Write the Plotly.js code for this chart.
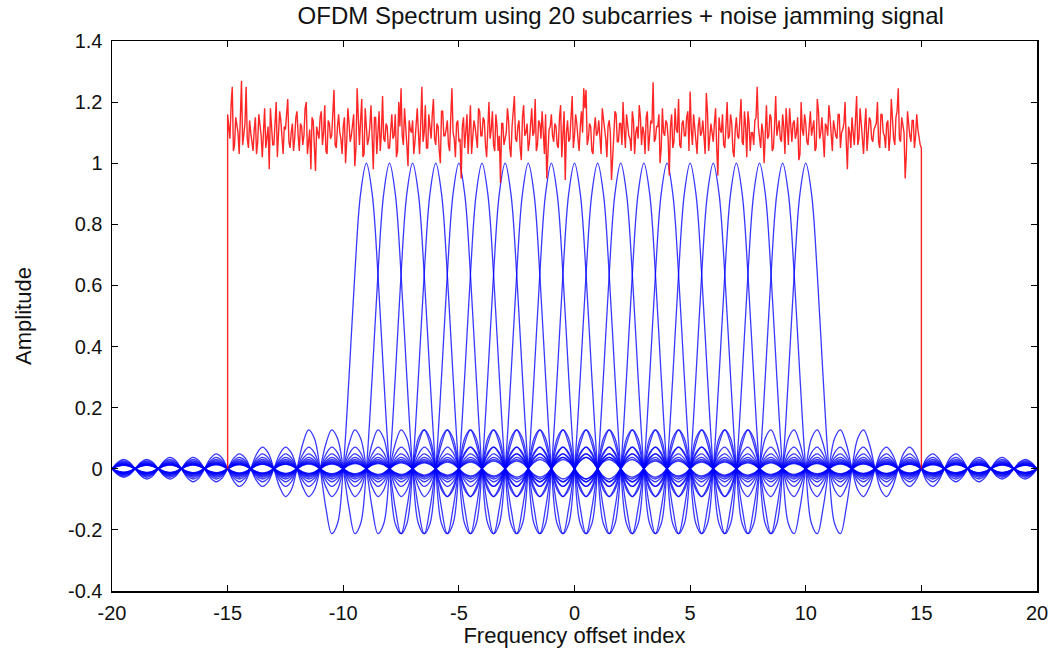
<!DOCTYPE html>
<html>
<head>
<meta charset="utf-8">
<script src="https://cdn.plot.ly/plotly-3.0.1.min.js"></script>
<style>html,body{margin:0;padding:0;background:#fff;}#chart{width:1059px;height:652px;}</style>
</head>
<body>
<div id="chart"></div>
<script>
// Subcarrier centre indices (20 subcarriers)
const subcarriers = [-9,-8,-7,-6,-5,-4,-3,-2,-1,0,1,2,3,4,5,6,7,8,9,10];
// Subcarrier amplitude shape, sampled every 0.25 offset (offset 0 .. 30)
const kernelStep = 0.25;
const sincKernel = [
 1, 0.9003, 0.6366, 0.3001, 0, -0.1801, -0.2122, -0.1286,
 0, 0.1000, 0.1273, 0.0818, 0, -0.0693, -0.0909, -0.0600,
 0, 0.0530, 0.0707, 0.0474, 0, -0.0429, -0.0579, -0.0391,
 0, 0.0360, 0.0490, 0.0333, 0, -0.0310, -0.0424, -0.0290,
 0, 0.0273, 0.0374, 0.0257, 0, -0.0243, -0.0335, -0.0231,
 0, 0.0220, 0.0303, 0.0209, 0, -0.0200, -0.0277, -0.0192,
 0, 0.0184, 0.0255, 0.0177, 0, -0.0170, -0.0236, -0.0164,
 0, 0.0158, 0.0220, 0.0153, 0, -0.0148, -0.0205, -0.0143,
 0, 0.0139, 0.0193, 0.0134, 0, -0.0130, -0.0182, -0.0127,
 0, 0.0123, 0.0172, 0.0120, 0, -0.0117, -0.0163, -0.0114,
 0, 0.0111, 0.0155, 0.0108, 0, -0.0106, -0.0148, -0.0103,
 0, 0.0101, 0.0141, 0.0099, 0, -0.0097, -0.0135, -0.0095,
 0, 0.0093, 0.0130, 0.0091, 0, -0.0089, -0.0125, -0.0087,
 0, 0.0086, 0.0120, 0.0084, 0, -0.0083, -0.0116, -0.0081,
 0, 0.0080, 0.0112, 0.0078, 0, -0.0077, -0.0108, -0.0076,
 0
];
const freqMin = -20, freqMax = 20;

// Noise jamming signal: band edges and amplitude samples every 0.1 (from -15)
const jamStart = -15, jamEnd = 15, jamStep = 0.1;
const jamNoise = [
 1.16,1.08,1.25,1.06,1.12,1.03,1.27,1.09,1.25,1.05,
 1.10,1.04,1.15,1.07,1.13,1.02,1.18,1.08,0.98,1.12,
 1.06,1.20,1.09,1.14,1.03,1.11,1.21,1.05,1.13,1.08,
 1.17,1.04,1.12,1.09,1.20,1.07,0.98,1.14,0.975,1.10,
 1.15,1.06,1.19,1.03,1.13,1.09,1.24,1.05,1.16,1.08,
 1.12,1.00,1.18,1.07,1.14,0.99,1.245,1.06,1.21,1.03,
 1.13,1.08,1.19,0.98,1.15,1.10,1.04,1.22,1.07,1.12,
 1.05,1.16,1.09,1.02,1.20,1.245,1.06,1.13,0.99,1.11,
 1.14,1.07,1.18,1.03,1.25,1.10,1.05,1.16,1.08,1.21,
 1.06,1.12,1.00,1.17,1.09,1.14,1.04,1.245,1.08,1.13,
 1.07,0.95,1.15,1.10,1.03,1.19,1.08,1.12,1.05,1.17,
 1.09,1.14,1.02,1.20,1.11,1.06,1.16,1.04,0.935,1.13,
 1.08,1.18,1.05,1.12,1.22,1.07,1.14,1.01,1.19,1.10,
 1.04,1.15,1.09,1.21,1.06,1.13,1.17,1.03,0.95,1.11,
 1.16,1.07,1.12,1.05,1.19,1.10,0.945,1.14,1.08,1.22,
 1.09,1.13,1.04,1.17,1.245,1.24,1.08,1.12,1.03,1.15,
 1.10,1.06,1.18,1.11,1.02,1.14,0.945,1.09,1.16,1.07,
 1.13,1.20,1.05,1.11,1.08,1.17,1.03,1.12,1.19,1.06,
 1.10,1.15,1.04,1.14,1.265,1.08,1.12,1.00,1.18,1.09,
 1.13,0.96,1.16,1.07,1.11,1.21,1.05,1.14,1.09,1.17,
 1.235,1.06,1.12,1.03,1.15,1.10,1.08,1.23,1.04,1.13,
 1.07,1.18,0.96,1.11,1.16,1.05,1.20,1.09,1.13,1.02,
 1.15,1.08,1.21,1.06,1.12,1.17,1.04,1.10,1.14,1.25,
 1.07,1.13,1.00,1.19,1.09,1.15,1.05,1.22,1.11,1.08,
 1.16,1.03,1.12,1.18,1.07,1.14,1.10,1.01,1.20,1.09,
 1.13,1.06,1.17,1.11,1.04,1.21,1.08,1.15,1.02,1.12,
 1.19,1.07,1.14,1.09,1.16,1.05,1.11,1.20,0.98,1.10,
 1.15,1.06,1.22,1.08,1.13,1.03,1.18,1.10,1.14,1.07,
 1.12,1.20,1.05,1.16,1.09,1.13,1.04,1.21,1.08,1.15,
 1.245,1.07,1.12,0.95,1.17,1.09,1.14,1.05,1.16,1.08,
 1.05
];
// Noise samples half-way between the ones above (from -14.95)
const jamNoiseMid = [
 1.12,1.19,1.04,1.15,1.10,1.17,1.06,1.13,1.08,1.14,
 1.07,1.11,1.03,1.16,1.09,1.13,1.05,1.12,1.18,1.06,
 1.14,1.02,1.17,1.08,1.12,1.16,1.07,1.10,1.04,1.15,
 1.09,1.13,1.06,1.18,1.03,1.11,1.15,1.05,1.12,1.08,
 1.17,1.10,1.04,1.14,1.08,1.19,1.06,1.12,1.10,1.03,
 1.15,1.07,1.13,1.09,1.16,1.05,1.11,1.14,1.02,1.18,
 1.06,1.12,1.09,1.15,1.03,1.17,1.10,1.08,1.13,1.05,
 1.11,1.08,1.16,1.04,1.12,1.09,1.18,1.06,1.14,1.10,
 1.03,1.15,1.10,1.13,1.07,1.19,1.05,1.12,1.16,1.08,
 1.13,1.04,1.17,1.09,1.11,1.06,1.15,1.10,1.02,1.14,
 1.08,1.12,1.05,1.16,1.10,1.03,1.14,1.07,1.18,1.09,
 1.15,1.06,1.11,1.08,1.17,1.04,1.12,1.09,1.13,1.06,
 1.10,1.14,1.02,1.17,1.08,1.12,1.05,1.15,1.09,1.13,
 1.07,1.18,1.10,1.04,1.14,1.08,1.11,1.16,1.03,1.12,
 1.09,1.13,1.06,1.15,1.02,1.17,1.10,1.07,1.14,1.05,
 1.16,1.08,1.12,1.10,1.18,1.06,1.13,1.04,1.11,1.09,
 1.14,1.03,1.15,1.08,1.12,1.10,1.05,1.17,1.07,1.13,
 1.06,1.11,1.16,1.09,1.04,1.14,1.10,1.08,1.15,1.12,
 1.03,1.17,1.09,1.13,1.07,1.12,1.16,1.05,1.10,1.14,
 1.08,1.12,1.05,1.18,1.10,1.06,1.13,1.09,1.15,1.04,
 1.11,1.16,1.07,1.12,1.09,1.14,1.03,1.17,1.08,1.10,
 1.13,1.05,1.15,1.10,1.06,1.12,1.08,1.16,1.04,1.11,
 1.09,1.14,1.07,1.17,1.02,1.13,1.10,1.06,1.15,1.12,
 1.05,1.10,1.13,1.08,1.16,1.04,1.12,1.09,1.14,1.07,
 1.12,1.18,1.06,1.10,1.13,1.08,1.15,1.03,1.11,1.16,
 1.07,1.12,1.09,1.14,1.05,1.17,1.10,1.06,1.13,1.09,
 1.15,1.04,1.11,1.08,1.16,1.10,1.13,1.07,1.12,1.05,
 1.10,1.14,1.06,1.18,1.09,1.12,1.04,1.15,1.08,1.11,
 1.13,1.07,1.16,1.10,1.05,1.14,1.09,1.12,1.06,1.17,
 1.08,1.15,1.10,1.03,1.12,1.07,1.14,1.09,1.11,1.06
];

const xTickVals = [-20,-15,-10,-5,0,5,10,15,20];
const xTickText = ['-20','-15','-10','-5','0','5','10','15','20'];
const yTickVals = [-0.4,-0.2,0,0.2,0.4,0.6,0.8,1,1.2,1.4];
const yTickText = ['-0.4','-0.2','0','0.2','0.4','0.6','0.8','1','1.2','1.4'];

const traces = [];
const nGrid = Math.round((freqMax - freqMin) / kernelStep);
subcarriers.forEach(function (k) {
  const xs = [], ys = [];
  for (let i = 0; i <= nGrid; i++) {
    const f = freqMin + i * kernelStep;
    const idx = Math.round(Math.abs(f - k) / kernelStep);
    xs.push(f);
    ys.push(idx < sincKernel.length ? sincKernel[idx] : 0);
  }
  traces.push({
    x: xs, y: ys, type: 'scatter', mode: 'lines',
    line: {color: 'rgba(0,0,255,0.78)', width: 1.3, shape: 'spline', smoothing: 1},
    hoverinfo: 'skip', showlegend: false
  });
});

const jx = [jamStart], jy = [0];
jamNoise.forEach(function (v, i) {
  jx.push(jamStart + i * jamStep); jy.push(v);
  if (i < jamNoiseMid.length) { jx.push(jamStart + (i + 0.5) * jamStep); jy.push(jamNoiseMid[i]); }
});
jx.push(jamEnd); jy.push(0);
traces.push({
  x: jx, y: jy, type: 'scatter', mode: 'lines',
  line: {color: 'rgba(255,0,0,0.85)', width: 1.4},
  hoverinfo: 'skip', showlegend: false
});

const axisCommon = {
  showgrid: false, zeroline: false, showline: true, linecolor: '#000', linewidth: 1.5,
  mirror: 'allticks', ticks: 'inside', ticklen: 6, tickwidth: 1, tickcolor: '#000',
  tickfont: {family: 'Liberation Sans, Arial, sans-serif', size: 20, color: '#111'},
  tickmode: 'array'
};

const layout = {
  width: 1059, height: 652,
  paper_bgcolor: '#fff', plot_bgcolor: '#fff',
  margin: {l: 112, r: 22, t: 41, b: 61},
  font: {family: 'Liberation Sans, Arial, sans-serif', color: '#111'},
  title: {
    text: 'OFDM Spectrum using 20 subcarries + noise jamming signal',
    font: {size: 24, color: '#111', family: 'Liberation Sans, Arial, sans-serif'},
    xref: 'paper', x: 0.55, xanchor: 'center',
    yref: 'container', y: 0.976, yanchor: 'middle'
  },
  xaxis: Object.assign({}, axisCommon, {
    range: [freqMin, freqMax], tickvals: xTickVals, ticktext: xTickText,
    ticklabelstandoff: 3,
    title: {text: 'Frequency offset index', font: {size: 22, color: '#111'}, standoff: 4}
  }),
  yaxis: Object.assign({}, axisCommon, {
    range: [-0.4, 1.4], tickvals: yTickVals, ticktext: yTickText,
    ticklabelstandoff: 4,
    title: {text: 'Amplitude', font: {size: 22, color: '#111'}, standoff: 30}
  })
};

Plotly.newPlot('chart', traces, layout, {displayModeBar: false, staticPlot: true});
</script>
</body>
</html>
